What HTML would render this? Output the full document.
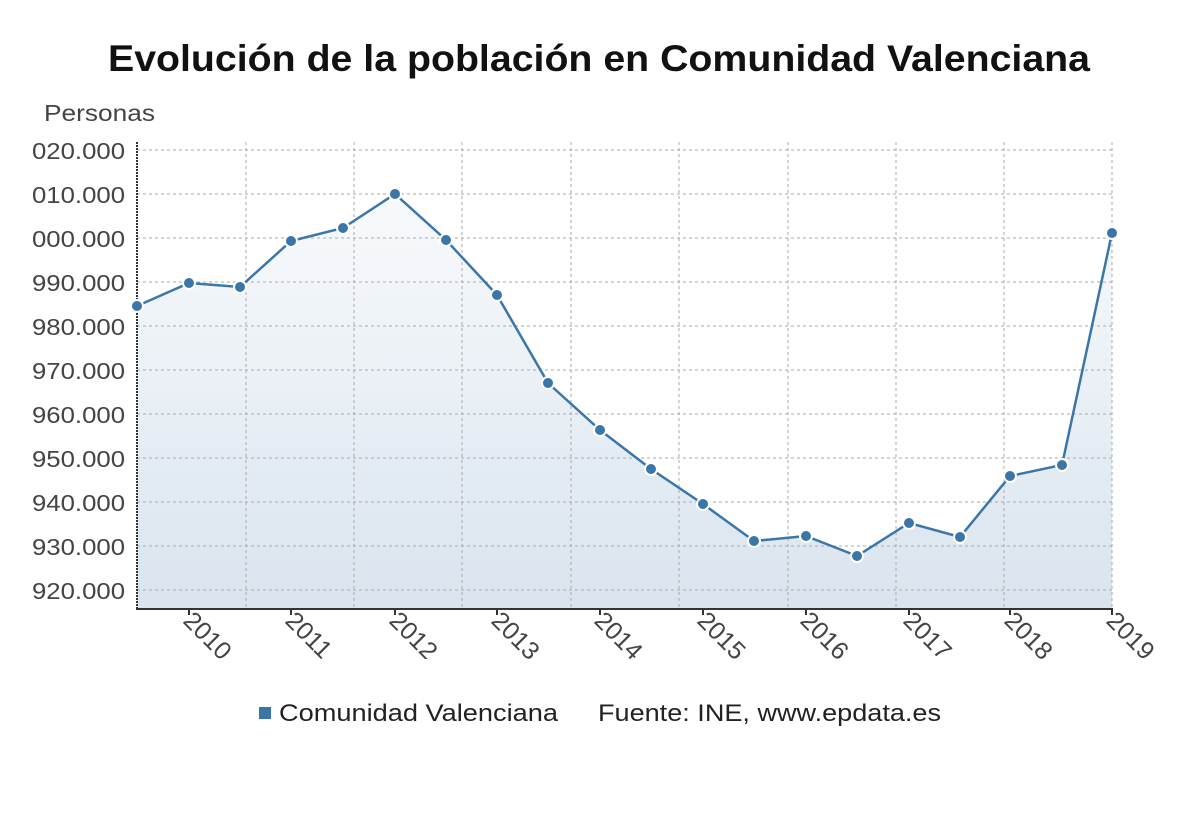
<!DOCTYPE html>
<html><head><meta charset="utf-8"><style>
body{margin:0;background:#fff;}
svg text{font-family:"Liberation Sans","DejaVu Sans",sans-serif;}
</style></head><body>
<svg width="1200" height="808" xmlns="http://www.w3.org/2000/svg">
<defs>
<linearGradient id="g" x1="0" y1="0" x2="0" y2="1">
<stop offset="0" stop-color="#f8fafc"/><stop offset="1" stop-color="#d9e4ee"/>
</linearGradient>
<clipPath id="cx"><rect x="100" y="612" width="1100" height="47"/></clipPath>
</defs>
<text x="108" y="71" font-size="37" font-weight="bold" fill="#111" textLength="982" lengthAdjust="spacingAndGlyphs">Evolución de la población en Comunidad Valenciana</text>
<text x="44" y="121" font-size="23" fill="#444" textLength="111" lengthAdjust="spacingAndGlyphs">Personas</text>
<polygon fill="url(#g)" points="137,306 189,283 240,287 291,241 343,228 395,194 446,240 497,295 548,383 600,430 651,469 703,504 754,541 806,536 857,556 909,523 960,537 1010,476 1062,465 1112,233 1112,609 137,609"/>
<g stroke="#aaa" stroke-width="1" stroke-dasharray="3,3">
<line x1="137" y1="150" x2="1112" y2="150"/><line x1="137" y1="194" x2="1112" y2="194"/><line x1="137" y1="238" x2="1112" y2="238"/><line x1="137" y1="282" x2="1112" y2="282"/><line x1="137" y1="326" x2="1112" y2="326"/><line x1="137" y1="370" x2="1112" y2="370"/><line x1="137" y1="414" x2="1112" y2="414"/><line x1="137" y1="458" x2="1112" y2="458"/><line x1="137" y1="502" x2="1112" y2="502"/><line x1="137" y1="546" x2="1112" y2="546"/><line x1="137" y1="590" x2="1112" y2="590"/>
<line x1="246" y1="142" x2="246" y2="609"/><line x1="354" y1="142" x2="354" y2="609"/><line x1="462" y1="142" x2="462" y2="609"/><line x1="571" y1="142" x2="571" y2="609"/><line x1="679" y1="142" x2="679" y2="609"/><line x1="788" y1="142" x2="788" y2="609"/><line x1="896" y1="142" x2="896" y2="609"/><line x1="1004" y1="142" x2="1004" y2="609"/><line x1="1112" y1="142" x2="1112" y2="609"/>
</g>
<line x1="137" y1="142" x2="137" y2="609" stroke="#333" stroke-width="2" stroke-dasharray="2,1"/>
<line x1="136" y1="609" x2="1113" y2="609" stroke="#333" stroke-width="2"/>
<g stroke="#333" stroke-width="2">
<line x1="189" y1="609" x2="189" y2="615"/><line x1="291" y1="609" x2="291" y2="615"/><line x1="395" y1="609" x2="395" y2="615"/><line x1="497" y1="609" x2="497" y2="615"/><line x1="600" y1="609" x2="600" y2="615"/><line x1="703" y1="609" x2="703" y2="615"/><line x1="806" y1="609" x2="806" y2="615"/><line x1="909" y1="609" x2="909" y2="615"/><line x1="1010" y1="609" x2="1010" y2="615"/><line x1="1112" y1="609" x2="1112" y2="615"/>
</g>
<g font-size="23" fill="#444">
<text x="32" y="159" textLength="93" lengthAdjust="spacingAndGlyphs">020.000</text><text x="32" y="203" textLength="93" lengthAdjust="spacingAndGlyphs">010.000</text><text x="32" y="247" textLength="93" lengthAdjust="spacingAndGlyphs">000.000</text><text x="32" y="291" textLength="93" lengthAdjust="spacingAndGlyphs">990.000</text><text x="32" y="335" textLength="93" lengthAdjust="spacingAndGlyphs">980.000</text><text x="32" y="379" textLength="93" lengthAdjust="spacingAndGlyphs">970.000</text><text x="32" y="423" textLength="93" lengthAdjust="spacingAndGlyphs">960.000</text><text x="32" y="467" textLength="93" lengthAdjust="spacingAndGlyphs">950.000</text><text x="32" y="511" textLength="93" lengthAdjust="spacingAndGlyphs">940.000</text><text x="32" y="555" textLength="93" lengthAdjust="spacingAndGlyphs">930.000</text><text x="32" y="599" textLength="93" lengthAdjust="spacingAndGlyphs">920.000</text>
</g>
<g font-size="25" fill="#444" clip-path="url(#cx)">
<text transform="translate(182,622) rotate(45)">2010</text>
<text transform="translate(284,622) rotate(45)">2011</text>
<text transform="translate(388,622) rotate(45)">2012</text>
<text transform="translate(490,622) rotate(45)">2013</text>
<text transform="translate(593,622) rotate(45)">2014</text>
<text transform="translate(696,622) rotate(45)">2015</text>
<text transform="translate(799,622) rotate(45)">2016</text>
<text transform="translate(902,622) rotate(45)">2017</text>
<text transform="translate(1003,622) rotate(45)">2018</text>
<text transform="translate(1105,622) rotate(45)">2019</text>
</g>
<polyline fill="none" stroke="#3a76a8" stroke-width="2.5" points="137,306 189,283 240,287 291,241 343,228 395,194 446,240 497,295 548,383 600,430 651,469 703,504 754,541 806,536 857,556 909,523 960,537 1010,476 1062,465 1112,233"/>
<g fill="#3a76a8" stroke="#fff" stroke-width="2">
<circle cx="137" cy="306" r="6"/><circle cx="189" cy="283" r="6"/><circle cx="240" cy="287" r="6"/><circle cx="291" cy="241" r="6"/><circle cx="343" cy="228" r="6"/><circle cx="395" cy="194" r="6"/><circle cx="446" cy="240" r="6"/><circle cx="497" cy="295" r="6"/><circle cx="548" cy="383" r="6"/><circle cx="600" cy="430" r="6"/><circle cx="651" cy="469" r="6"/><circle cx="703" cy="504" r="6"/><circle cx="754" cy="541" r="6"/><circle cx="806" cy="536" r="6"/><circle cx="857" cy="556" r="6"/><circle cx="909" cy="523" r="6"/><circle cx="960" cy="537" r="6"/><circle cx="1010" cy="476" r="6"/><circle cx="1062" cy="465" r="6"/><circle cx="1112" cy="233" r="6"/>
</g>
<rect x="259" y="707" width="12" height="12" fill="#3a76a8"/>
<text x="279" y="721" font-size="24" fill="#222" textLength="279" lengthAdjust="spacingAndGlyphs">Comunidad Valenciana</text>
<text x="598" y="721" font-size="24" fill="#222" textLength="343" lengthAdjust="spacingAndGlyphs">Fuente: INE, www.epdata.es</text>
</svg>
</body></html>
